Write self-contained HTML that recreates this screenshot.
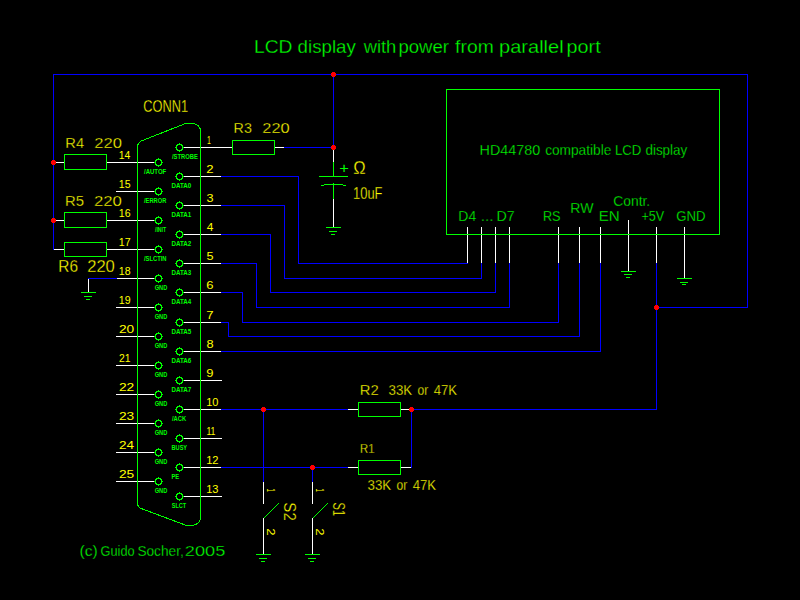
<!DOCTYPE html>
<html><head><meta charset="utf-8"><style>
html,body{margin:0;padding:0;background:#000;width:800px;height:600px;overflow:hidden}
svg{display:block}
text{font-family:"Liberation Sans",sans-serif;white-space:pre;stroke:#000;stroke-width:0.3px;paint-order:normal}
text.sm{stroke:none;font-weight:bold}
text.md{stroke:none}
</style></head><body>
<svg width="800" height="600" viewBox="0 0 800 600" fill="none" stroke-width="1">
<rect width="800" height="600" fill="#000"/>
<path d="M53 74.5H748" stroke="#0000ff"/>
<path d="M53.5 74V250" stroke="#0000ff"/>
<path d="M747.5 74V308" stroke="#0000ff"/>
<path d="M656 307.5H748" stroke="#0000ff"/>
<path d="M333.5 74V148" stroke="#0000ff"/>
<path d="M284 147.5H334" stroke="#0000ff"/>
<path d="M221 176.5H299" stroke="#0000ff"/>
<path d="M298.5 176V264" stroke="#0000ff"/>
<path d="M298 263.5H468" stroke="#0000ff"/>
<path d="M221 205.5H285" stroke="#0000ff"/>
<path d="M284.5 205V279" stroke="#0000ff"/>
<path d="M284 278.5H482" stroke="#0000ff"/>
<path d="M481.5 263V279" stroke="#0000ff"/>
<path d="M221 234.5H271" stroke="#0000ff"/>
<path d="M270.5 234V293" stroke="#0000ff"/>
<path d="M270 292.5H496" stroke="#0000ff"/>
<path d="M495.5 263V293" stroke="#0000ff"/>
<path d="M221 263.5H257" stroke="#0000ff"/>
<path d="M256.5 263V308" stroke="#0000ff"/>
<path d="M256 307.5H510" stroke="#0000ff"/>
<path d="M509.5 263V308" stroke="#0000ff"/>
<path d="M221 292.5H243" stroke="#0000ff"/>
<path d="M242.5 292V323" stroke="#0000ff"/>
<path d="M242 322.5H559" stroke="#0000ff"/>
<path d="M558.5 263V323" stroke="#0000ff"/>
<path d="M221 322.5H229" stroke="#0000ff"/>
<path d="M228.5 322V337" stroke="#0000ff"/>
<path d="M228 336.5H580" stroke="#0000ff"/>
<path d="M579.5 263V337" stroke="#0000ff"/>
<path d="M221 351.5H601" stroke="#0000ff"/>
<path d="M600.5 263V352" stroke="#0000ff"/>
<path d="M656.5 263V410" stroke="#0000ff"/>
<path d="M221 409.5H348" stroke="#0000ff"/>
<path d="M411 409.5H657" stroke="#0000ff"/>
<path d="M221 467.5H348" stroke="#0000ff"/>
<path d="M411.5 409V468" stroke="#0000ff"/>
<path d="M263.5 409V482" stroke="#0000ff"/>
<path d="M312.5 467V482" stroke="#0000ff"/>
<path d="M88 278.5H117" stroke="#0000ff"/>
<path d="M182 147.5H221" stroke="#ffffff"/>
<path d="M182 176.5H221" stroke="#ffffff"/>
<path d="M182 205.5H221" stroke="#ffffff"/>
<path d="M182 234.5H221" stroke="#ffffff"/>
<path d="M182 263.5H221" stroke="#ffffff"/>
<path d="M182 292.5H221" stroke="#ffffff"/>
<path d="M182 322.5H221" stroke="#ffffff"/>
<path d="M182 351.5H221" stroke="#ffffff"/>
<path d="M182 380.5H222" stroke="#ffffff"/>
<path d="M182 409.5H221" stroke="#ffffff"/>
<path d="M182 438.5H222" stroke="#ffffff"/>
<path d="M182 467.5H221" stroke="#ffffff"/>
<path d="M182 496.5H222" stroke="#ffffff"/>
<path d="M221 147.5H232" stroke="#ffffff"/>
<path d="M117 162.5H156" stroke="#ffffff"/>
<path d="M116 191.5H156" stroke="#ffffff"/>
<path d="M117 220.5H156" stroke="#ffffff"/>
<path d="M117 249.5H156" stroke="#ffffff"/>
<path d="M117 278.5H156" stroke="#ffffff"/>
<path d="M116 307.5H156" stroke="#ffffff"/>
<path d="M116 336.5H156" stroke="#ffffff"/>
<path d="M116 365.5H156" stroke="#ffffff"/>
<path d="M116 394.5H156" stroke="#ffffff"/>
<path d="M116 423.5H156" stroke="#ffffff"/>
<path d="M116 452.5H156" stroke="#ffffff"/>
<path d="M116 481.5H156" stroke="#ffffff"/>
<path d="M54 162.5H64" stroke="#ffffff"/>
<path d="M107 162.5H117" stroke="#ffffff"/>
<path d="M54 220.5H64" stroke="#ffffff"/>
<path d="M107 220.5H117" stroke="#ffffff"/>
<path d="M54 249.5H64" stroke="#ffffff"/>
<path d="M107 249.5H117" stroke="#ffffff"/>
<path d="M275 147.5H284" stroke="#ffffff"/>
<path d="M348 409.5H358" stroke="#ffffff"/>
<path d="M401 409.5H411" stroke="#ffffff"/>
<path d="M348 467.5H358" stroke="#ffffff"/>
<path d="M401 467.5H411" stroke="#ffffff"/>
<path d="M467.5 227V263" stroke="#ffffff"/>
<path d="M481.5 227V263" stroke="#ffffff"/>
<path d="M495.5 227V263" stroke="#ffffff"/>
<path d="M509.5 227V263" stroke="#ffffff"/>
<path d="M558.5 227V263" stroke="#ffffff"/>
<path d="M579.5 227V263" stroke="#ffffff"/>
<path d="M600.5 227V263" stroke="#ffffff"/>
<path d="M656.5 227V263" stroke="#ffffff"/>
<path d="M684.5 227V278" stroke="#ffffff"/>
<path d="M628.5 220V271" stroke="#ffffff"/>
<path d="M333.5 148V162" stroke="#ffffff"/>
<path d="M333.5 199V227" stroke="#ffffff"/>
<path d="M88.5 279V292" stroke="#ffffff"/>
<path d="M263.5 482V504" stroke="#ffffff"/>
<path d="M263.5 518V554" stroke="#ffffff"/>
<path d="M312.5 482V504" stroke="#ffffff"/>
<path d="M312.5 518V554" stroke="#ffffff"/>
<rect x="446.5" y="89.5" width="273" height="145" stroke="#00ff00" fill="none"/>
<rect x="64.5" y="154.5" width="42" height="15" stroke="#00ff00" fill="none"/>
<rect x="64.5" y="212.5" width="42" height="15" stroke="#00ff00" fill="none"/>
<rect x="64.5" y="242.5" width="42" height="14" stroke="#00ff00" fill="none"/>
<rect x="232.5" y="140.5" width="42" height="14" stroke="#00ff00" fill="none"/>
<rect x="358.5" y="402.5" width="42" height="14" stroke="#00ff00" fill="none"/>
<rect x="358.5" y="460.5" width="42" height="14" stroke="#00ff00" fill="none"/>
<path d="M137.5 503V147.5Q137.5 142 142.5 140.5L185.5 123.5H193.5Q200.5 125 200.5 131.5V517Q200.5 524.5 191.5 525.5H186.5L142.5 509Q137.5 507.5 137.5 503" stroke="#00ff00" fill="none" shape-rendering="crispEdges"/>
<path d="M177 144h5v1h-5zM177 150h5v1h-5zM176 145h1v5h-1zM182 145h1v5h-1zM179 143h1v1h-1z M179 151h1v1h-1z M175 147h1v1h-1z M183 147h1v1h-1zM177 145h1v1h-1z M181 145h1v1h-1z M177 149h1v1h-1z M181 149h1v1h-1z" fill="#00ff00" stroke="none"/>
<path d="M177 173h5v1h-5zM177 179h5v1h-5zM176 174h1v5h-1zM182 174h1v5h-1zM179 172h1v1h-1z M179 180h1v1h-1z M175 176h1v1h-1z M183 176h1v1h-1zM177 174h1v1h-1z M181 174h1v1h-1z M177 178h1v1h-1z M181 178h1v1h-1z" fill="#00ff00" stroke="none"/>
<path d="M177 202h5v1h-5zM177 208h5v1h-5zM176 203h1v5h-1zM182 203h1v5h-1zM179 201h1v1h-1z M179 209h1v1h-1z M175 205h1v1h-1z M183 205h1v1h-1zM177 203h1v1h-1z M181 203h1v1h-1z M177 207h1v1h-1z M181 207h1v1h-1z" fill="#00ff00" stroke="none"/>
<path d="M177 231h5v1h-5zM177 237h5v1h-5zM176 232h1v5h-1zM182 232h1v5h-1zM179 230h1v1h-1z M179 238h1v1h-1z M175 234h1v1h-1z M183 234h1v1h-1zM177 232h1v1h-1z M181 232h1v1h-1z M177 236h1v1h-1z M181 236h1v1h-1z" fill="#00ff00" stroke="none"/>
<path d="M177 260h5v1h-5zM177 266h5v1h-5zM176 261h1v5h-1zM182 261h1v5h-1zM179 259h1v1h-1z M179 267h1v1h-1z M175 263h1v1h-1z M183 263h1v1h-1zM177 261h1v1h-1z M181 261h1v1h-1z M177 265h1v1h-1z M181 265h1v1h-1z" fill="#00ff00" stroke="none"/>
<path d="M177 289h5v1h-5zM177 295h5v1h-5zM176 290h1v5h-1zM182 290h1v5h-1zM179 288h1v1h-1z M179 296h1v1h-1z M175 292h1v1h-1z M183 292h1v1h-1zM177 290h1v1h-1z M181 290h1v1h-1z M177 294h1v1h-1z M181 294h1v1h-1z" fill="#00ff00" stroke="none"/>
<path d="M177 319h5v1h-5zM177 325h5v1h-5zM176 320h1v5h-1zM182 320h1v5h-1zM179 318h1v1h-1z M179 326h1v1h-1z M175 322h1v1h-1z M183 322h1v1h-1zM177 320h1v1h-1z M181 320h1v1h-1z M177 324h1v1h-1z M181 324h1v1h-1z" fill="#00ff00" stroke="none"/>
<path d="M177 348h5v1h-5zM177 354h5v1h-5zM176 349h1v5h-1zM182 349h1v5h-1zM179 347h1v1h-1z M179 355h1v1h-1z M175 351h1v1h-1z M183 351h1v1h-1zM177 349h1v1h-1z M181 349h1v1h-1z M177 353h1v1h-1z M181 353h1v1h-1z" fill="#00ff00" stroke="none"/>
<path d="M177 377h5v1h-5zM177 383h5v1h-5zM176 378h1v5h-1zM182 378h1v5h-1zM179 376h1v1h-1z M179 384h1v1h-1z M175 380h1v1h-1z M183 380h1v1h-1zM177 378h1v1h-1z M181 378h1v1h-1z M177 382h1v1h-1z M181 382h1v1h-1z" fill="#00ff00" stroke="none"/>
<path d="M177 406h5v1h-5zM177 412h5v1h-5zM176 407h1v5h-1zM182 407h1v5h-1zM179 405h1v1h-1z M179 413h1v1h-1z M175 409h1v1h-1z M183 409h1v1h-1zM177 407h1v1h-1z M181 407h1v1h-1z M177 411h1v1h-1z M181 411h1v1h-1z" fill="#00ff00" stroke="none"/>
<path d="M177 435h5v1h-5zM177 441h5v1h-5zM176 436h1v5h-1zM182 436h1v5h-1zM179 434h1v1h-1z M179 442h1v1h-1z M175 438h1v1h-1z M183 438h1v1h-1zM177 436h1v1h-1z M181 436h1v1h-1z M177 440h1v1h-1z M181 440h1v1h-1z" fill="#00ff00" stroke="none"/>
<path d="M177 464h5v1h-5zM177 470h5v1h-5zM176 465h1v5h-1zM182 465h1v5h-1zM179 463h1v1h-1z M179 471h1v1h-1z M175 467h1v1h-1z M183 467h1v1h-1zM177 465h1v1h-1z M181 465h1v1h-1z M177 469h1v1h-1z M181 469h1v1h-1z" fill="#00ff00" stroke="none"/>
<path d="M177 493h5v1h-5zM177 499h5v1h-5zM176 494h1v5h-1zM182 494h1v5h-1zM179 492h1v1h-1z M179 500h1v1h-1z M175 496h1v1h-1z M183 496h1v1h-1zM177 494h1v1h-1z M181 494h1v1h-1z M177 498h1v1h-1z M181 498h1v1h-1z" fill="#00ff00" stroke="none"/>
<path d="M156 159h5v1h-5zM156 165h5v1h-5zM155 160h1v5h-1zM161 160h1v5h-1zM158 158h1v1h-1z M158 166h1v1h-1z M154 162h1v1h-1z M162 162h1v1h-1zM156 160h1v1h-1z M160 160h1v1h-1z M156 164h1v1h-1z M160 164h1v1h-1z" fill="#00ff00" stroke="none"/>
<path d="M156 188h5v1h-5zM156 194h5v1h-5zM155 189h1v5h-1zM161 189h1v5h-1zM158 187h1v1h-1z M158 195h1v1h-1z M154 191h1v1h-1z M162 191h1v1h-1zM156 189h1v1h-1z M160 189h1v1h-1z M156 193h1v1h-1z M160 193h1v1h-1z" fill="#00ff00" stroke="none"/>
<path d="M156 217h5v1h-5zM156 223h5v1h-5zM155 218h1v5h-1zM161 218h1v5h-1zM158 216h1v1h-1z M158 224h1v1h-1z M154 220h1v1h-1z M162 220h1v1h-1zM156 218h1v1h-1z M160 218h1v1h-1z M156 222h1v1h-1z M160 222h1v1h-1z" fill="#00ff00" stroke="none"/>
<path d="M156 246h5v1h-5zM156 252h5v1h-5zM155 247h1v5h-1zM161 247h1v5h-1zM158 245h1v1h-1z M158 253h1v1h-1z M154 249h1v1h-1z M162 249h1v1h-1zM156 247h1v1h-1z M160 247h1v1h-1z M156 251h1v1h-1z M160 251h1v1h-1z" fill="#00ff00" stroke="none"/>
<path d="M156 275h5v1h-5zM156 281h5v1h-5zM155 276h1v5h-1zM161 276h1v5h-1zM158 274h1v1h-1z M158 282h1v1h-1z M154 278h1v1h-1z M162 278h1v1h-1zM156 276h1v1h-1z M160 276h1v1h-1z M156 280h1v1h-1z M160 280h1v1h-1z" fill="#00ff00" stroke="none"/>
<path d="M156 304h5v1h-5zM156 310h5v1h-5zM155 305h1v5h-1zM161 305h1v5h-1zM158 303h1v1h-1z M158 311h1v1h-1z M154 307h1v1h-1z M162 307h1v1h-1zM156 305h1v1h-1z M160 305h1v1h-1z M156 309h1v1h-1z M160 309h1v1h-1z" fill="#00ff00" stroke="none"/>
<path d="M156 333h5v1h-5zM156 339h5v1h-5zM155 334h1v5h-1zM161 334h1v5h-1zM158 332h1v1h-1z M158 340h1v1h-1z M154 336h1v1h-1z M162 336h1v1h-1zM156 334h1v1h-1z M160 334h1v1h-1z M156 338h1v1h-1z M160 338h1v1h-1z" fill="#00ff00" stroke="none"/>
<path d="M156 362h5v1h-5zM156 368h5v1h-5zM155 363h1v5h-1zM161 363h1v5h-1zM158 361h1v1h-1z M158 369h1v1h-1z M154 365h1v1h-1z M162 365h1v1h-1zM156 363h1v1h-1z M160 363h1v1h-1z M156 367h1v1h-1z M160 367h1v1h-1z" fill="#00ff00" stroke="none"/>
<path d="M156 391h5v1h-5zM156 397h5v1h-5zM155 392h1v5h-1zM161 392h1v5h-1zM158 390h1v1h-1z M158 398h1v1h-1z M154 394h1v1h-1z M162 394h1v1h-1zM156 392h1v1h-1z M160 392h1v1h-1z M156 396h1v1h-1z M160 396h1v1h-1z" fill="#00ff00" stroke="none"/>
<path d="M156 420h5v1h-5zM156 426h5v1h-5zM155 421h1v5h-1zM161 421h1v5h-1zM158 419h1v1h-1z M158 427h1v1h-1z M154 423h1v1h-1z M162 423h1v1h-1zM156 421h1v1h-1z M160 421h1v1h-1z M156 425h1v1h-1z M160 425h1v1h-1z" fill="#00ff00" stroke="none"/>
<path d="M156 449h5v1h-5zM156 455h5v1h-5zM155 450h1v5h-1zM161 450h1v5h-1zM158 448h1v1h-1z M158 456h1v1h-1z M154 452h1v1h-1z M162 452h1v1h-1zM156 450h1v1h-1z M160 450h1v1h-1z M156 454h1v1h-1z M160 454h1v1h-1z" fill="#00ff00" stroke="none"/>
<path d="M156 478h5v1h-5zM156 484h5v1h-5zM155 479h1v5h-1zM161 479h1v5h-1zM158 477h1v1h-1z M158 485h1v1h-1z M154 481h1v1h-1z M162 481h1v1h-1zM156 479h1v1h-1z M160 479h1v1h-1z M156 483h1v1h-1z M160 483h1v1h-1z" fill="#00ff00" stroke="none"/>
<path d="M333.5 162V176" stroke="#00ff00"/>
<path d="M319 176.5H348" stroke="#00ff00"/>
<path d="M321 185.5H324" stroke="#00ff00"/>
<path d="M324 184.5H343" stroke="#00ff00"/>
<path d="M343 185.5H346" stroke="#00ff00"/>
<path d="M333.5 183V199" stroke="#00ff00"/>
<path d="M326 227.5H341" stroke="#00ff00"/>
<path d="M329 231.5H337" stroke="#00ff00"/>
<path d="M331 234.5H335" stroke="#00ff00"/>
<path d="M621 271.5H636" stroke="#00ff00"/>
<path d="M624 274.5H632" stroke="#00ff00"/>
<path d="M626 277.5H630" stroke="#00ff00"/>
<path d="M677 278.5H692" stroke="#00ff00"/>
<path d="M680 282.5H688" stroke="#00ff00"/>
<path d="M682 284.5H686" stroke="#00ff00"/>
<path d="M81 292.5H96" stroke="#00ff00"/>
<path d="M84 296.5H92" stroke="#00ff00"/>
<path d="M86 299.5H90" stroke="#00ff00"/>
<path d="M256 554.5H271" stroke="#00ff00"/>
<path d="M259 558.5H267" stroke="#00ff00"/>
<path d="M261 561.5H265" stroke="#00ff00"/>
<path d="M305 554.5H320" stroke="#00ff00"/>
<path d="M308 558.5H316" stroke="#00ff00"/>
<path d="M310 561.5H314" stroke="#00ff00"/>
<path d="M263.5 518.5L278.5 503.5" stroke="#00ff00" shape-rendering="crispEdges"/>
<path d="M312.5 518.5L327.5 503.5" stroke="#00ff00" shape-rendering="crispEdges"/>
<path d="M332 72H335V73H336V76H335V77H332V76H331V73H332Z" fill="#ff0000" stroke="none"/>
<path d="M332 145H335V146H336V149H335V150H332V149H331V146H332Z" fill="#ff0000" stroke="none"/>
<path d="M52 160H55V161H56V164H55V165H52V164H51V161H52Z" fill="#ff0000" stroke="none"/>
<path d="M52 218H55V219H56V222H55V223H52V222H51V219H52Z" fill="#ff0000" stroke="none"/>
<path d="M655 305H658V306H659V309H658V310H655V309H654V306H655Z" fill="#ff0000" stroke="none"/>
<path d="M262 407H265V408H266V411H265V412H262V411H261V408H262Z" fill="#ff0000" stroke="none"/>
<path d="M410 407H413V408H414V411H413V412H410V411H409V408H410Z" fill="#ff0000" stroke="none"/>
<path d="M311 465H314V466H315V469H314V470H311V469H310V466H311Z" fill="#ff0000" stroke="none"/>
<text x="254.02" y="53" font-size="18.90" fill="#00ff00" textLength="38.50" lengthAdjust="spacingAndGlyphs">LCD</text>
<text x="297.62" y="53" font-size="18.90" fill="#00ff00" textLength="58.17" lengthAdjust="spacingAndGlyphs">display</text>
<text x="363.63" y="53" font-size="18.90" fill="#00ff00" textLength="32.67" lengthAdjust="spacingAndGlyphs">with</text>
<text x="398.40" y="53" font-size="18.90" fill="#00ff00" textLength="50.50" lengthAdjust="spacingAndGlyphs">power</text>
<text x="455.13" y="53" font-size="18.90" fill="#00ff00" textLength="38.65" lengthAdjust="spacingAndGlyphs">from</text>
<text x="499.11" y="53" font-size="18.90" fill="#00ff00" textLength="64.48" lengthAdjust="spacingAndGlyphs">parallel</text>
<text x="566.63" y="53" font-size="18.90" fill="#00ff00" textLength="34.02" lengthAdjust="spacingAndGlyphs">port</text>
<text x="479.62" y="155" font-size="14.54" fill="#00ff00" textLength="60.69" lengthAdjust="spacingAndGlyphs">HD44780</text>
<text x="545.17" y="155" font-size="14.54" fill="#00ff00" textLength="66.19" lengthAdjust="spacingAndGlyphs">compatible</text>
<text x="614.91" y="155" font-size="14.54" fill="#00ff00" textLength="26.47" lengthAdjust="spacingAndGlyphs">LCD</text>
<text x="645.44" y="155" font-size="14.54" fill="#00ff00" textLength="41.84" lengthAdjust="spacingAndGlyphs">display</text>
<text x="458.35" y="221" font-size="15.26" fill="#00ff00" textLength="17.85" lengthAdjust="spacingAndGlyphs">D4</text>
<text x="480.80" y="221" font-size="15.26" fill="#00ff00" textLength="12.81" lengthAdjust="spacingAndGlyphs">...</text>
<text x="496.43" y="221" font-size="15.26" fill="#00ff00" textLength="18.18" lengthAdjust="spacingAndGlyphs">D7</text>
<text x="542.96" y="221" font-size="15.26" fill="#00ff00" textLength="17.62" lengthAdjust="spacingAndGlyphs">RS</text>
<text x="570.36" y="213" font-size="14.54" fill="#00ff00" textLength="23.19" lengthAdjust="spacingAndGlyphs">RW</text>
<text x="598.76" y="221" font-size="15.26" fill="#00ff00" textLength="20.97" lengthAdjust="spacingAndGlyphs">EN</text>
<text x="613.31" y="206" font-size="14.54" fill="#00ff00" textLength="36.93" lengthAdjust="spacingAndGlyphs">Contr.</text>
<text x="641.39" y="221" font-size="15.26" fill="#00ff00" textLength="22.67" lengthAdjust="spacingAndGlyphs">+5V</text>
<text x="676.34" y="221" font-size="15.26" fill="#00ff00" textLength="29.29" lengthAdjust="spacingAndGlyphs">GND</text>
<text x="79.43" y="555.5" font-size="15.26" fill="#00ff00" textLength="18.24" lengthAdjust="spacingAndGlyphs">(c)</text>
<text x="100.56" y="555.5" font-size="15.26" fill="#00ff00" textLength="34.08" lengthAdjust="spacingAndGlyphs">Guido</text>
<text x="137.39" y="555.5" font-size="15.26" fill="#00ff00" textLength="46.42" lengthAdjust="spacingAndGlyphs">Socher,</text>
<text x="184.88" y="555.5" font-size="15.26" fill="#00ff00" textLength="40.48" lengthAdjust="spacingAndGlyphs">2005</text>
<text x="339.20" y="173" font-size="13.81" fill="#00ff00" textLength="9.62" lengthAdjust="spacingAndGlyphs" class="md">+</text>
<text x="143.35" y="112" font-size="15.99" fill="#ffff00" textLength="44.77" lengthAdjust="spacingAndGlyphs">CONN1</text>
<text x="65.39" y="148" font-size="14.54" fill="#ffff00" textLength="18.79" lengthAdjust="spacingAndGlyphs">R4</text>
<text x="94.16" y="148" font-size="14.54" fill="#ffff00" textLength="27.74" lengthAdjust="spacingAndGlyphs">220</text>
<text x="65.08" y="206" font-size="14.54" fill="#ffff00" textLength="19.05" lengthAdjust="spacingAndGlyphs">R5</text>
<text x="93.91" y="206" font-size="14.54" fill="#ffff00" textLength="28.00" lengthAdjust="spacingAndGlyphs">220</text>
<text x="58.33" y="272" font-size="15.99" fill="#ffff00" textLength="19.75" lengthAdjust="spacingAndGlyphs">R6</text>
<text x="87.17" y="272" font-size="15.99" fill="#ffff00" textLength="27.68" lengthAdjust="spacingAndGlyphs">220</text>
<text x="233.58" y="133" font-size="14.54" fill="#ffff00" textLength="18.30" lengthAdjust="spacingAndGlyphs">R3</text>
<text x="262.28" y="133" font-size="14.54" fill="#ffff00" textLength="27.37" lengthAdjust="spacingAndGlyphs">220</text>
<text x="353.29" y="174" font-size="17.44" fill="#ffff00" textLength="12.42" lengthAdjust="spacingAndGlyphs">Ω</text>
<text x="353.01" y="199" font-size="15.99" fill="#ffff00" textLength="29.50" lengthAdjust="spacingAndGlyphs">10uF</text>
<text x="359.78" y="395" font-size="14.54" fill="#ffff00" textLength="18.96" lengthAdjust="spacingAndGlyphs">R2</text>
<text x="388.49" y="395" font-size="14.54" fill="#ffff00" textLength="23.66" lengthAdjust="spacingAndGlyphs">33K</text>
<text x="417.49" y="395" font-size="14.54" fill="#ffff00" textLength="10.71" lengthAdjust="spacingAndGlyphs">or</text>
<text x="433.70" y="395" font-size="14.54" fill="#ffff00" textLength="23.45" lengthAdjust="spacingAndGlyphs">47K</text>
<text x="360.07" y="453" font-size="13.08" fill="#ffff00" textLength="14.48" lengthAdjust="spacingAndGlyphs">R1</text>
<text x="367.49" y="489.5" font-size="15.26" fill="#ffff00" textLength="23.66" lengthAdjust="spacingAndGlyphs">33K</text>
<text x="396.49" y="489.5" font-size="15.26" fill="#ffff00" textLength="10.71" lengthAdjust="spacingAndGlyphs">or</text>
<text x="412.70" y="489.5" font-size="15.26" fill="#ffff00" textLength="23.45" lengthAdjust="spacingAndGlyphs">47K</text>
<text x="206.97" y="144" font-size="11.63" fill="#ffff00" textLength="3.87" lengthAdjust="spacingAndGlyphs" class="md">1</text>
<text x="206.34" y="173" font-size="11.63" fill="#ffff00" textLength="7.32" lengthAdjust="spacingAndGlyphs" class="md">2</text>
<text x="206.52" y="202" font-size="11.63" fill="#ffff00" textLength="7.04" lengthAdjust="spacingAndGlyphs" class="md">3</text>
<text x="206.73" y="231" font-size="11.63" fill="#ffff00" textLength="6.62" lengthAdjust="spacingAndGlyphs" class="md">4</text>
<text x="206.49" y="260" font-size="11.63" fill="#ffff00" textLength="7.04" lengthAdjust="spacingAndGlyphs" class="md">5</text>
<text x="206.34" y="289" font-size="11.63" fill="#ffff00" textLength="7.23" lengthAdjust="spacingAndGlyphs" class="md">6</text>
<text x="206.32" y="319" font-size="11.63" fill="#ffff00" textLength="7.34" lengthAdjust="spacingAndGlyphs" class="md">7</text>
<text x="206.44" y="348" font-size="11.63" fill="#ffff00" textLength="7.11" lengthAdjust="spacingAndGlyphs" class="md">8</text>
<text x="206.39" y="377" font-size="11.63" fill="#ffff00" textLength="7.22" lengthAdjust="spacingAndGlyphs" class="md">9</text>
<text x="206.16" y="406" font-size="11.63" fill="#ffff00" textLength="12.27" lengthAdjust="spacingAndGlyphs" class="md">10</text>
<text x="206.38" y="435" font-size="11.63" fill="#ffff00" textLength="9.01" lengthAdjust="spacingAndGlyphs" class="md">11</text>
<text x="206.15" y="464" font-size="11.63" fill="#ffff00" textLength="12.41" lengthAdjust="spacingAndGlyphs" class="md">12</text>
<text x="206.16" y="493" font-size="11.63" fill="#ffff00" textLength="12.33" lengthAdjust="spacingAndGlyphs" class="md">13</text>
<text x="118.81" y="159" font-size="11.63" fill="#ffff00" textLength="11.60" lengthAdjust="spacingAndGlyphs" class="md">14</text>
<text x="118.80" y="188" font-size="11.63" fill="#ffff00" textLength="11.75" lengthAdjust="spacingAndGlyphs" class="md">15</text>
<text x="118.79" y="217" font-size="11.63" fill="#ffff00" textLength="11.77" lengthAdjust="spacingAndGlyphs" class="md">16</text>
<text x="118.79" y="246" font-size="11.63" fill="#ffff00" textLength="11.85" lengthAdjust="spacingAndGlyphs" class="md">17</text>
<text x="118.79" y="275" font-size="11.63" fill="#ffff00" textLength="11.77" lengthAdjust="spacingAndGlyphs" class="md">18</text>
<text x="118.79" y="304" font-size="11.63" fill="#ffff00" textLength="11.81" lengthAdjust="spacingAndGlyphs" class="md">19</text>
<text x="118.91" y="333" font-size="11.63" fill="#ffff00" textLength="15.22" lengthAdjust="spacingAndGlyphs" class="md">20</text>
<text x="119.08" y="362" font-size="11.63" fill="#ffff00" textLength="11.53" lengthAdjust="spacingAndGlyphs" class="md">21</text>
<text x="118.90" y="391" font-size="11.63" fill="#ffff00" textLength="15.39" lengthAdjust="spacingAndGlyphs" class="md">22</text>
<text x="118.91" y="420" font-size="11.63" fill="#ffff00" textLength="15.30" lengthAdjust="spacingAndGlyphs" class="md">23</text>
<text x="118.92" y="449" font-size="11.63" fill="#ffff00" textLength="15.08" lengthAdjust="spacingAndGlyphs" class="md">24</text>
<text x="118.91" y="478" font-size="11.63" fill="#ffff00" textLength="15.27" lengthAdjust="spacingAndGlyphs" class="md">25</text>
<text x="172.00" y="159" font-size="7.27" fill="#00ff00" textLength="25.75" lengthAdjust="spacingAndGlyphs" class="sm">/STROBE</text>
<text x="171.50" y="188" font-size="7.27" fill="#00ff00" textLength="19.74" lengthAdjust="spacingAndGlyphs" class="sm">DATA0</text>
<text x="171.50" y="217" font-size="7.27" fill="#00ff00" textLength="19.80" lengthAdjust="spacingAndGlyphs" class="sm">DATA1</text>
<text x="171.50" y="246" font-size="7.27" fill="#00ff00" textLength="19.81" lengthAdjust="spacingAndGlyphs" class="sm">DATA2</text>
<text x="171.50" y="275" font-size="7.27" fill="#00ff00" textLength="19.77" lengthAdjust="spacingAndGlyphs" class="sm">DATA3</text>
<text x="171.50" y="304" font-size="7.27" fill="#00ff00" textLength="19.68" lengthAdjust="spacingAndGlyphs" class="sm">DATA4</text>
<text x="171.50" y="334" font-size="7.27" fill="#00ff00" textLength="19.76" lengthAdjust="spacingAndGlyphs" class="sm">DATA5</text>
<text x="171.50" y="363" font-size="7.27" fill="#00ff00" textLength="19.77" lengthAdjust="spacingAndGlyphs" class="sm">DATA6</text>
<text x="171.50" y="392" font-size="7.27" fill="#00ff00" textLength="19.81" lengthAdjust="spacingAndGlyphs" class="sm">DATA7</text>
<text x="172.00" y="421" font-size="7.27" fill="#00ff00" textLength="14.07" lengthAdjust="spacingAndGlyphs" class="sm">/ACK</text>
<text x="171.53" y="450" font-size="7.27" fill="#00ff00" textLength="15.60" lengthAdjust="spacingAndGlyphs" class="sm">BUSY</text>
<text x="171.53" y="479" font-size="7.27" fill="#00ff00" textLength="7.72" lengthAdjust="spacingAndGlyphs" class="sm">PE</text>
<text x="171.74" y="508" font-size="7.27" fill="#00ff00" textLength="14.38" lengthAdjust="spacingAndGlyphs" class="sm">SLCT</text>
<text x="144.00" y="174" font-size="7.27" fill="#00ff00" textLength="22.24" lengthAdjust="spacingAndGlyphs" class="sm">/AUTOF</text>
<text x="144.00" y="203" font-size="7.27" fill="#00ff00" textLength="22.27" lengthAdjust="spacingAndGlyphs" class="sm">/ERROR</text>
<text x="155.00" y="232" font-size="7.27" fill="#00ff00" textLength="11.12" lengthAdjust="spacingAndGlyphs" class="sm">/INIT</text>
<text x="144.00" y="261" font-size="7.27" fill="#00ff00" textLength="22.48" lengthAdjust="spacingAndGlyphs" class="sm">/SLCTIN</text>
<text x="154.72" y="290" font-size="7.27" fill="#00ff00" textLength="12.55" lengthAdjust="spacingAndGlyphs" class="sm">GND</text>
<text x="154.72" y="319" font-size="7.27" fill="#00ff00" textLength="12.55" lengthAdjust="spacingAndGlyphs" class="sm">GND</text>
<text x="154.72" y="348" font-size="7.27" fill="#00ff00" textLength="12.55" lengthAdjust="spacingAndGlyphs" class="sm">GND</text>
<text x="154.72" y="377" font-size="7.27" fill="#00ff00" textLength="12.55" lengthAdjust="spacingAndGlyphs" class="sm">GND</text>
<text x="154.72" y="406" font-size="7.27" fill="#00ff00" textLength="12.55" lengthAdjust="spacingAndGlyphs" class="sm">GND</text>
<text x="154.72" y="435" font-size="7.27" fill="#00ff00" textLength="12.55" lengthAdjust="spacingAndGlyphs" class="sm">GND</text>
<text x="154.72" y="464" font-size="7.27" fill="#00ff00" textLength="12.55" lengthAdjust="spacingAndGlyphs" class="sm">GND</text>
<text x="154.72" y="493" font-size="7.27" fill="#00ff00" textLength="12.55" lengthAdjust="spacingAndGlyphs" class="sm">GND</text>
<text transform="translate(267 489) rotate(90)" x="-0.44" y="0" font-size="11.63" fill="#ffff00" textLength="3.22" lengthAdjust="spacingAndGlyphs" class="md">1</text>
<text transform="translate(267 529) rotate(90)" x="-0.66" y="0" font-size="11.63" fill="#ffff00" textLength="7.32" lengthAdjust="spacingAndGlyphs" class="md">2</text>
<text transform="translate(316 489) rotate(90)" x="-0.44" y="0" font-size="11.63" fill="#ffff00" textLength="3.22" lengthAdjust="spacingAndGlyphs" class="md">1</text>
<text transform="translate(316 529) rotate(90)" x="-0.66" y="0" font-size="11.63" fill="#ffff00" textLength="7.32" lengthAdjust="spacingAndGlyphs" class="md">2</text>
<text transform="translate(284 503) rotate(90)" x="-0.68" y="0" font-size="15.99" fill="#ffff00" textLength="18.44" lengthAdjust="spacingAndGlyphs">S2</text>
<text transform="translate(333 503) rotate(90)" x="-0.50" y="0" font-size="15.99" fill="#ffff00" textLength="13.54" lengthAdjust="spacingAndGlyphs">S1</text>
</svg></body></html>
